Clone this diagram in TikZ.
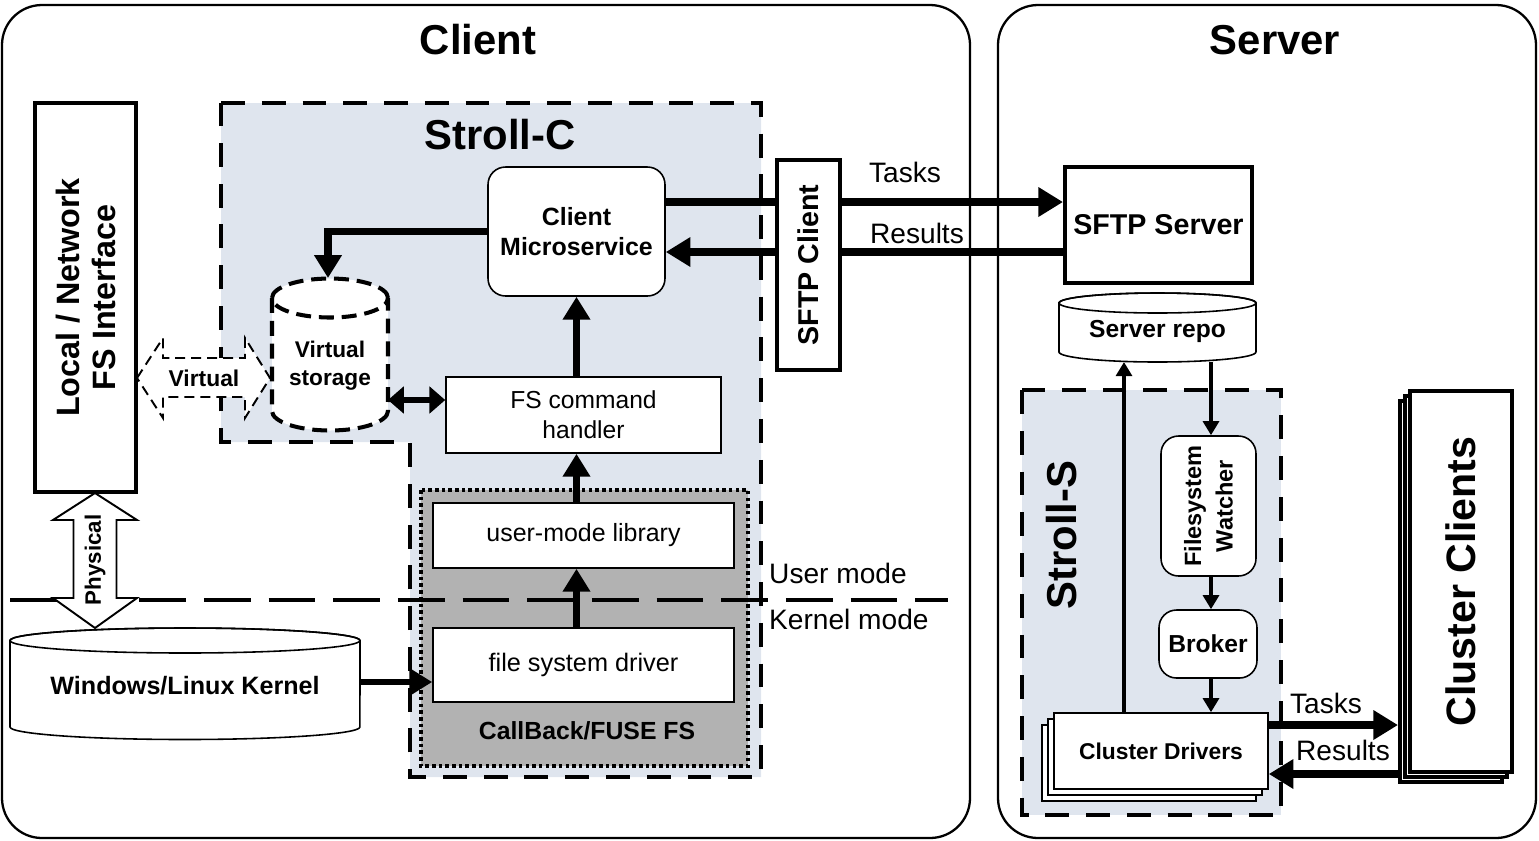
\documentclass[tikz,border=0pt]{standalone}
\usepackage{fontspec}
\setmainfont{Liberation Sans}
\usetikzlibrary{arrows.meta}

\definecolor{strollbg}{RGB}{223,229,238}
\definecolor{fusegray}{RGB}{178,178,178}

\begin{document}
\begin{tikzpicture}[x=0.02cm,y=-0.02cm,
   box/.style={draw,fill=white,line width=0.9pt,align=center,inner sep=0pt},
   rbox/.style={box,rounded corners=0.35cm},
   thickbox/.style={box,line width=2.3pt},
   region/.style={fill=strollbg,line width=2.5pt,dash pattern=on 13.6pt off 9.6pt},
   vdash/.style={line width=2.3pt,dash pattern=on 8.5pt off 4.5pt},
   titlef/.style={font=\fontsize{23.8}{28}\selectfont\bfseries},
   boldf/.style={font=\fontsize{#1}{17}\selectfont\bfseries},
   normf/.style={font=\fontsize{#1}{17}\selectfont},
   bigarr/.style={line width=4.5pt,-{Triangle[length=14pt,width=16pt]}},
   midarr/.style={line width=3.8pt,-{Triangle[length=13pt,width=15pt]}},
   smallarr/.style={line width=2.2pt,-{Triangle[length=8pt,width=9pt]}},
   blockarr/.style={fill=white,line width=1.1pt,line join=miter}]
   \useasboundingbox (0,0) rectangle (1539,840);
   % client and server frames
   \draw[line width=1.3pt,rounded corners=0.8cm] (2,5) rectangle (970,838);
   \draw[line width=1.3pt,rounded corners=0.8cm] (998,5) rectangle (1536,838);
   \node[titlef] (clienttitle) at (478,40) {Client};
   \node[titlef] (servertitle) at (1275,40) {Server};

   % Stroll-C
   \draw[region] (221,103) -- (761,103) -- (761,777) -- (410,777) -- (410,442) -- (221,442) -- cycle;
   \node[titlef] (strollc) at (500,135) {Stroll-C};
   \draw[fill=fusegray,line width=2.3pt,dash pattern=on 2pt off 1.8pt] (421,490) rectangle (748,766);
   \node[boldf=14.1] (fuselabel) at (587,731) {CallBack/FUSE FS};

   \node[thickbox,rotate=90,minimum width=7.78cm,minimum height=2.02cm,font=\fontsize{18.4}{20.5}\selectfont\bfseries] (localfs) at (85.5,297.5) {Local / Network\\FS Interface};
   \node[rbox,minimum width=3.54cm,minimum height=2.58cm,boldf=14.2] (clientms) at (576.5,231.5) {Client\\Microservice};
   \node[box,minimum width=5.5cm,minimum height=1.52cm,normf=14] (fshandler) at (583.5,415) {FS command\\handler};
   \node[box,minimum width=6.02cm,minimum height=1.3cm,normf=14.2] (usermode) at (583.5,535.5) {user-mode library};
   \node[box,minimum width=6.02cm,minimum height=1.48cm,normf=14.4] (fsdriver) at (583.5,665) {file system driver};

   % virtual storage
   \fill[white] (272,298) -- (272,411)
      arc[start angle=180,end angle=360,x radius=1.16cm,y radius=0.39cm] -- (388,298)
      arc[start angle=0,end angle=180,x radius=1.16cm,y radius=0.39cm] -- cycle;
   \draw[vdash] (272,298) -- (272,411)
      arc[start angle=180,end angle=360,x radius=1.16cm,y radius=0.39cm] -- (388,298);
   \draw[vdash] (330,298) ellipse[x radius=1.16cm,y radius=0.39cm];
   \node[font=\fontsize{12.9}{16}\selectfont\bfseries,align=center] (vstore) at (330,366) {Virtual\\storage};
   \coordinate (vstoretop) at (328,278);
   \coordinate (vstoreright) at (388,400);

   % kernel
   \draw[fill=white,line width=0.9pt] (10,640.5) -- (10,727)
      arc[start angle=180,end angle=360,x radius=3.5cm,y radius=0.25cm] -- (360,640.5)
      arc[start angle=0,end angle=180,x radius=3.5cm,y radius=0.25cm] -- cycle;
   \draw[line width=0.9pt] (185,640.5) ellipse[x radius=3.5cm,y radius=0.25cm];
   \node[boldf=14.3] (kernel) at (185,686) {Windows/Linux Kernel};
   \coordinate (kernelright) at (360,682);

   % user / kernel line
   \draw[line width=2.8pt,dash pattern=on 26.6pt off 10.2pt] (10,600) -- (948,600);
   \node[normf=16,anchor=west] (usermodelabel) at (763,573) {User mode};
   \node[normf=16,anchor=west] (kernelmodelabel) at (763,619) {Kernel mode};

   % block arrows
   \draw[blockarr,dash pattern=on 5.7pt off 3.4pt] (137,378) -- (163,338) -- (163,358) -- (245,358) -- (245,338)
      -- (270,378) -- (245,418) -- (245,397) -- (163,397) -- (163,418) -- cycle;
   \node[boldf=13] (virtlabel) at (204,378) {Virtual};
   \draw[blockarr] (95,493) -- (137,520) -- (116.5,520) -- (116.5,598) -- (137,598) -- (95,628)
      -- (53,598) -- (73.5,598) -- (73.5,520) -- (53,520) -- cycle;
   \node[boldf=12.7,rotate=90] (physlabel) at (95,560) {Physical};

   % client arrows
   \draw[midarr,line width=4.3pt] (clientms.west) -| (vstoretop);
   \draw[line width=3.8pt,{Triangle[length=9pt,width=15pt]}-{Triangle[length=9pt,width=15pt]}] (vstoreright) -- (fshandler.west |- vstoreright);
   \draw[midarr] (clientms.south |- fshandler.north) -- (clientms.south);
   \draw[midarr] (clientms.south |- usermode.north) -- (clientms.south |- fshandler.south);
   \draw[midarr] (clientms.south |- fsdriver.north) -- (clientms.south |- usermode.south);
   \draw[midarr] (kernelright) -- (fsdriver.west |- kernelright);

   % sftp
   \node[thickbox,minimum width=3.74cm,minimum height=2.32cm,boldf=16.3] (sftpserver) at (1158.5,225) {SFTP Server};
   \coordinate (tasksstart) at ([yshift=0.59cm]clientms.east);
   \coordinate (resultsend) at ([yshift=-0.41cm]clientms.east);
   \draw[bigarr] (tasksstart) -- (tasksstart -| sftpserver.west);
   \draw[bigarr] (resultsend -| sftpserver.west) -- (resultsend);
   \node[thickbox,rotate=90,minimum width=4.2cm,minimum height=1.26cm,boldf=16.3] (sftpclient) at (808.5,265) {SFTP Client};
   \node[normf=16] (taskslabel) at (905,172) {Tasks};
   \node[normf=16] (resultslabel) at (917,233) {Results};

   % server repo
   \draw[fill=white,line width=0.9pt] (1059,303) -- (1059,352)
      arc[start angle=180,end angle=360,x radius=1.97cm,y radius=0.2cm] -- (1256,303)
      arc[start angle=0,end angle=180,x radius=1.97cm,y radius=0.2cm] -- cycle;
   \draw[line width=0.9pt] (1157.5,303) ellipse[x radius=1.97cm,y radius=0.2cm];
   \node[boldf=14] (repo) at (1157.5,331) {Server repo};
   \coordinate (repobottom) at (1211,362);
   \coordinate (repoleft) at (1124,362);

   % Stroll-S
   \draw[region] (1022,390) rectangle (1281,815);
   \node[titlef,rotate=90] (strolls) at (1062,535) {Stroll-S};
   \node[rbox,rotate=90,minimum width=2.8cm,minimum height=1.9cm,font=\fontsize{13.4}{18}\selectfont\bfseries] (watcher) at (1208.5,506) {Filesystem\\Watcher};
   \node[rbox,minimum width=1.96cm,minimum height=1.36cm,boldf=14] (broker) at (1208,644) {Broker};
   \foreach \d in {12,6}
      \draw[fill=white,line width=0.9pt] (1054-\d,713+\d) rectangle (1268-\d,789+\d);
   \node[box,minimum width=4.28cm,minimum height=1.52cm,boldf=13] (drivers) at (1161,751) {Cluster Drivers};

   \draw[smallarr] (repobottom) -- (repobottom |- watcher.east);
   \draw[smallarr] (repobottom |- watcher.west) -- (repobottom |- broker.north);
   \draw[smallarr] (repobottom |- broker.south) -- (repobottom |- drivers.north);
   \draw[smallarr] (repoleft |- drivers.north) -- (repoleft);

   % cluster clients
   \foreach \d in {10,5}
      \draw[fill=white,line width=2.3pt] (1410-\d,391+\d) rectangle (1512-\d,772+\d);
   \node[thickbox,rotate=90,minimum width=7.62cm,minimum height=2.04cm,boldf=23.4] (clusterclients) at (1461,581.5) {Cluster Clients};
   \coordinate (ctasks) at ([yshift=0.52cm]drivers.east);
   \coordinate (cresults) at ([yshift=-0.46cm]drivers.east);
   \coordinate (ccleft) at ([xshift=-0.2cm]clusterclients.north);
   \draw[bigarr] (ctasks) -- (ctasks -| ccleft);
   \draw[bigarr] (cresults -| ccleft) -- (cresults);
   \node[normf=16] (ctaskslabel) at (1326,703) {Tasks};
   \node[normf=16] (cresultslabel) at (1343,750) {Results};
\end{tikzpicture}
\end{document}
